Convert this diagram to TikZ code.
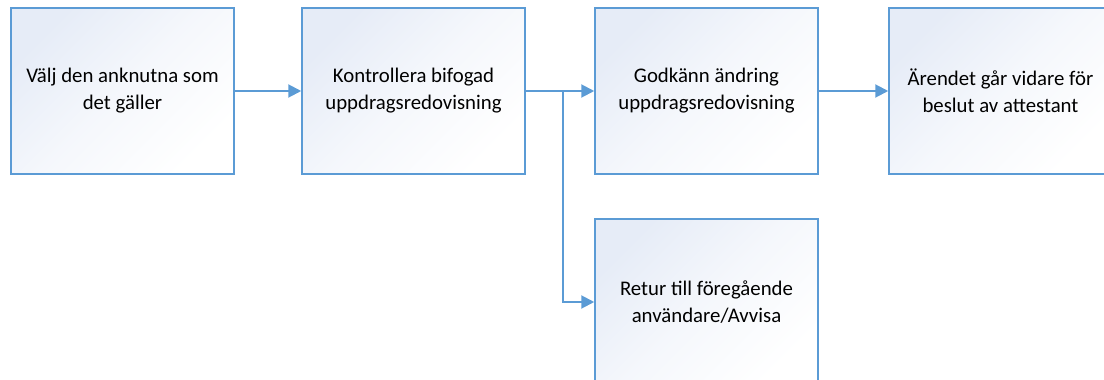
\documentclass[tikz,border=0pt]{standalone}
\usepackage{fontspec}
\setmainfont{Carlito}
\usetikzlibrary{positioning,arrows.meta}
\definecolor{boxblue}{HTML}{5B9BD5}
\definecolor{boxtint}{HTML}{E6ECF7}
\begin{document}
\begin{tikzpicture}[->,>={Triangle[length=13pt,width=13pt]},node distance=68pt,line width=2pt,draw=boxblue,
  main node/.style={draw=boxblue,line width=1.5pt,minimum width=223pt,minimum height=166pt,
    align=center,font=\fontsize{20.8}{27}\selectfont,
    shading=axis,top color=boxtint,bottom color=white,middle color=white!60!boxtint,shading angle=45}]
            \useasboundingbox (0,0) rectangle (1104pt,-380pt);
            \node[main node] (1) at (122.5pt,-91pt) {Välj den anknutna som\\det gäller};
            \node[main node] (2) [right=66.5pt of 1] {Kontrollera bifogad\\uppdragsredovisning};
            \node[main node] (3) [right=68.5pt of 2] {Godkänn ändring\\uppdragsredovisning};
            \node[main node] (4) [right=69.5pt of 3] {Ärendet går vidare för\\beslut av attestant};
            \node[main node] (5) [below=43.5pt of 3] {Retur till föregående\\användare/Avvisa};
            \path[every edge/.style={draw=boxblue,line width=2pt}]
            (1) edge (2)
            (2) edge (3)
            (3) edge (4);
            \draw[boxblue] (2.east) -- ++(37pt,0) |- (5);
        \end{tikzpicture}
\end{document}
